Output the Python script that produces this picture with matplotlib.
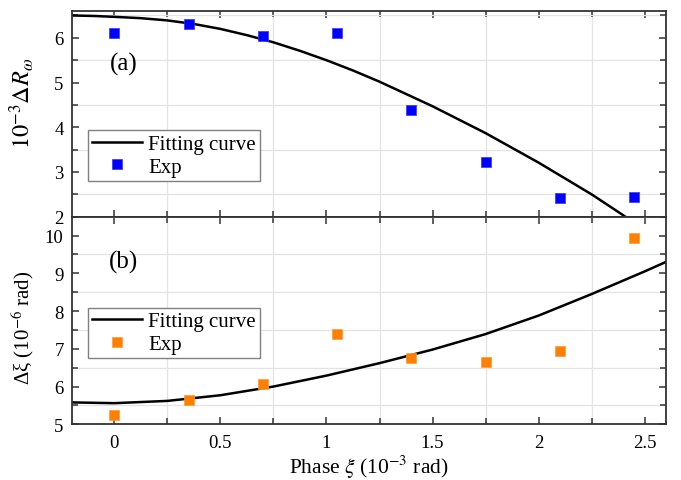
import matplotlib
matplotlib.use("Agg")
import matplotlib.pyplot as plt
from matplotlib.ticker import MultipleLocator

plt.rcParams['font.family'] = ['Liberation Serif', 'DejaVu Serif']
plt.rcParams['mathtext.fontset'] = 'stix'

# measured phase points (10^-3 rad)
phase = [0.0, 0.35, 0.70, 1.05, 1.40, 1.75, 2.10, 2.45]
dR_exp = [6.10, 6.30, 6.04, 6.10, 4.39, 3.22, 2.42, 2.44]
dxi_exp = [5.25, 5.65, 6.08, 7.40, 6.76, 6.64, 6.93, 9.93]

# fitting curves
fit_x_a = [-0.2, -0.1, 0.0, 0.125, 0.25, 0.375, 0.5, 0.625, 0.75, 0.875, 1.0, 1.125, 1.25,
           1.5, 1.75, 2.0, 2.25, 2.4, 2.5]
fit_a = [6.50, 6.49, 6.47, 6.44, 6.39, 6.31, 6.20, 6.06, 5.90, 5.71, 5.50, 5.27, 5.02,
         4.47, 3.87, 3.21, 2.50, 2.03, 1.70]
fit_x_b = [-0.2, 0.0, 0.25, 0.5, 0.75, 1.0, 1.25, 1.5, 1.75, 2.0, 2.25, 2.5, 2.6]
fit_b = [5.58, 5.56, 5.62, 5.77, 6.00, 6.29, 6.62, 6.98, 7.39, 7.88, 8.45, 9.05, 9.30]

fig = plt.figure(figsize=(6.81, 4.81), dpi=100)
ax1 = fig.add_axes([0.1057, 0.5474, 0.872, 0.4276])
ax2 = fig.add_axes([0.1057, 0.1158, 0.872, 0.4316], sharex=ax1)

ax1.plot(fit_x_a, fit_a, color='black', lw=1.8, label='Fitting curve')
ax1.plot(phase, dR_exp, 's', color='#0000ff', ms=7, mec='#3333ff', mew=0.5, ls='none', label='Exp')
ax2.plot(fit_x_b, fit_b, color='black', lw=1.8, label='Fitting curve')
ax2.plot(phase, dxi_exp, 's', color='#ff8000', ms=7, mec='#ff9933', mew=0.5, ls='none', label='Exp')

ax1.set_xlim(-0.2, 2.6)
ax1.set_ylim(2, 6.6)
ax2.set_ylim(5, 10.5)

for ax in (ax1, ax2):
    ax.xaxis.set_major_locator(MultipleLocator(0.5))
    ax.xaxis.set_minor_locator(MultipleLocator(0.25))
    ax.yaxis.set_major_locator(MultipleLocator(1))
    ax.yaxis.set_minor_locator(MultipleLocator(0.5))
    ax.tick_params(which='both', direction='in', top=True, right=True,
                   labelsize=13.5, color='#333333', width=1.1)
    ax.tick_params(which='major', length=5)
    ax.tick_params(which='minor', length=4)
    ax.tick_params(axis='y', pad=6)
    ax.tick_params(axis='x', pad=7)
    ax.grid(which='minor', color='#e3e3e3', lw=0.9)
    ax.set_axisbelow(True)
    for s in ax.spines.values():
        s.set_color('#333333')
        s.set_linewidth(1.3)

ax1.tick_params(labelbottom=False)
ax2.set_xticks([0, 0.5, 1, 1.5, 2, 2.5])
ax2.set_xticklabels(['0', '0.5', '1', '1.5', '2', '2.5'])

ax1.set_ylabel(r'$10^{-3}\Delta R_{\omega}$', fontsize=17.5)
ax2.set_ylabel(r'Δξ (10$^{-6}$ rad)', fontsize=15)
ax2.set_xlabel(r'Phase $\xi$ (10$^{-3}$ rad)', fontsize=15.5, labelpad=1)
ax1.yaxis.set_label_coords(-0.06, 0.557)
ax2.yaxis.set_label_coords(-0.06, 0.47)

ax1.text(0.0875, 0.747, '(a)', transform=ax1.transAxes, fontsize=18, ha='center', va='center')
ax2.text(0.0875, 0.784, '(b)', transform=ax2.transAxes, fontsize=18, ha='center', va='center')

leg_kw = dict(loc='lower left', fontsize=15, frameon=True, fancybox=False,
              edgecolor='#808080', framealpha=1, borderpad=0.2, borderaxespad=0,
              handlelength=2.4, handletextpad=0.3, labelspacing=0.15)
l1 = ax1.legend(bbox_to_anchor=(0.027, 0.174), **leg_kw)
l2 = ax2.legend(bbox_to_anchor=(0.027, 0.318), **leg_kw)
for l in (l1, l2):
    l.get_frame().set_linewidth(1.0)

fig.savefig('out.png', dpi=100)
